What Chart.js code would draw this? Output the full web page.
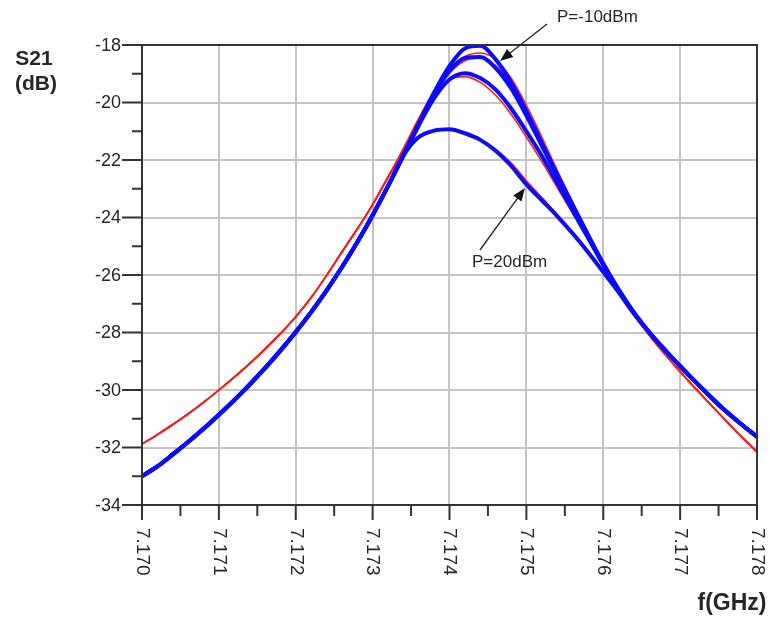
<!DOCTYPE html>
<html>
<head>
<meta charset="utf-8">
<script src="https://cdn.jsdelivr.net/npm/chart.js@4.4.1/dist/chart.umd.min.js"></script>
<style>
  html, body { margin: 0; padding: 0; background: #fff; }
  #wrap { position: relative; width: 770px; height: 618px; }
</style>
</head>
<body>
<div id="wrap"><canvas id="s21"></canvas></div>
<script>
// frequency points (GHz)
const freqGHz = [
  7.1700, 7.1702, 7.1704, 7.1706, 7.1708, 7.1710, 7.1712, 7.1714, 7.1716, 7.1718,
  7.1720, 7.1722, 7.1724, 7.1726, 7.1728, 7.1730, 7.1732, 7.1734, 7.1736, 7.1738,
  7.1740, 7.1742, 7.1744, 7.1746, 7.1748, 7.1750, 7.1752, 7.1754, 7.1756, 7.1758,
  7.1760, 7.1762, 7.1764, 7.1766, 7.1768, 7.1770, 7.1772, 7.1774, 7.1776, 7.1778,
  7.1780
];

// measured traces (blue): shared skirts, separate tops
const blueLeft = [-33.0, -32.66, -32.24, -31.81, -31.35, -30.86, -30.35, -29.81, -29.24,
  -28.63, -27.98, -27.29, -26.54, -25.73, -24.86, -23.92, -22.91];
const blueRight = [-28.0, -28.6, -29.17, -29.72, -30.25, -30.75, -31.2, -31.62];
const blueTop1 = [-21.84, -20.73, -19.65, -18.73, -18.12, -18.03, -18.5, -19.3, -20.3,
  -21.4, -22.5, -23.55, -24.6, -25.6, -26.5, -27.3];
const blueTop2 = [-21.84, -20.75, -19.72, -18.9, -18.45, -18.42, -18.8, -19.5, -20.45,
  -21.5, -22.55, -23.6, -24.62, -25.62, -26.52, -27.32];
const blueTop3 = [-21.85, -20.8, -19.85, -19.2, -18.98, -19.15, -19.55, -20.2, -21.0,
  -21.85, -22.8, -23.75, -24.7, -25.65, -26.55, -27.33];
const blueTop4 = [-21.85, -21.2, -20.98, -20.93, -21.07, -21.3, -21.68, -22.2, -22.85,
  -23.4, -23.95, -24.55, -25.2, -25.9, -26.6, -27.35];

// simulated traces (red)
const redLeft = [-31.88, -31.55, -31.2, -30.83, -30.43, -30.0, -29.55, -29.08, -28.58,
  -28.04, -27.45, -26.78, -26.02, -25.2, -24.4, -23.55, -22.6];
const redRight = [-28.1, -28.75, -29.36, -29.95, -30.52, -31.08, -31.63, -32.15];
const redTop1 = [-21.6, -20.55, -19.6, -18.85, -18.4, -18.28, -18.5, -19.15, -20.1,
  -21.2, -22.35, -23.45, -24.5, -25.55, -26.5, -27.35];
const redTop2 = [-21.62, -20.6, -19.68, -18.98, -18.55, -18.45, -18.72, -19.38, -20.3,
  -21.35, -22.45, -23.5, -24.55, -25.58, -26.52, -27.37];
const redTop3 = [-21.65, -20.65, -19.75, -19.2, -19.1, -19.3, -19.75, -20.4, -21.2,
  -22.05, -22.95, -23.85, -24.75, -25.65, -26.55, -27.38];
const redTop4 = [-21.8, -21.25, -21.0, -20.95, -21.05, -21.27, -21.62, -22.1, -22.72,
  -23.3, -23.9, -24.5, -25.15, -25.85, -26.55, -27.32];

const yTicks = [-18, -20, -22, -24, -26, -28, -30, -32, -34];
const xTicks = ['7.170', '7.171', '7.172', '7.173', '7.174', '7.175', '7.176', '7.177', '7.178'];

const toPoints = vals => vals.map((v, i) => ({ x: freqGHz[i], y: v }));

function trace(vals, color, width) {
  return {
    data: toPoints(vals),
    borderColor: color,
    borderWidth: width,
    pointRadius: 0,
    fill: false,
    cubicInterpolationMode: 'monotone',
    borderCapStyle: 'round',
    borderJoinStyle: 'round'
  };
}

const BLUE = '#0a0aff';
const RED = '#ff1a1a';

// first dataset ends up on top, so blue goes first
const datasets = [
  trace([...blueLeft, ...blueTop1, ...blueRight], BLUE, 4),
  trace([...blueLeft, ...blueTop2, ...blueRight], BLUE, 4),
  trace([...blueLeft, ...blueTop3, ...blueRight], BLUE, 4),
  trace([...blueLeft, ...blueTop4, ...blueRight], BLUE, 4),
  trace([...redLeft, ...redTop1, ...redRight], RED, 1.6),
  trace([...redLeft, ...redTop2, ...redRight], RED, 1.6),
  trace([...redLeft, ...redTop3, ...redRight], RED, 1.6),
  trace([...redLeft, ...redTop4, ...redRight], RED, 1.6)
];

const TEXT = '#262626';
const FONT = '"Liberation Sans", Arial, sans-serif';

function arrow(ctx, x0, y0, x1, y1) {
  const ang = Math.atan2(y1 - y0, x1 - x0);
  const len = 13, half = 5;
  ctx.beginPath();
  ctx.moveTo(x0, y0);
  ctx.lineTo(x1 - Math.cos(ang) * len * 0.8, y1 - Math.sin(ang) * len * 0.8);
  ctx.stroke();
  ctx.beginPath();
  ctx.moveTo(x1, y1);
  ctx.lineTo(x1 - Math.cos(ang) * len + Math.sin(ang) * half, y1 - Math.sin(ang) * len - Math.cos(ang) * half);
  ctx.lineTo(x1 - Math.cos(ang) * len - Math.sin(ang) * half, y1 - Math.sin(ang) * len + Math.cos(ang) * half);
  ctx.closePath();
  ctx.fill();
}

// frame, outward ticks, tick labels, axis titles and the two callouts
const decorations = {
  id: 'decorations',
  afterDraw(chart) {
    const { ctx, chartArea: a, scales: { x, y } } = chart;
    ctx.save();

    ctx.strokeStyle = '#333';
    ctx.lineWidth = 2;
    ctx.strokeRect(a.left, a.top, a.right - a.left, a.bottom - a.top);

    const seg = (x0, y0, x1, y1) => {
      ctx.beginPath(); ctx.moveTo(x0, y0); ctx.lineTo(x1, y1); ctx.stroke();
    };

    ctx.fillStyle = TEXT;
    ctx.font = '18px ' + FONT;
    ctx.textAlign = 'right';
    ctx.textBaseline = 'middle';
    yTicks.forEach((v, i) => {
      const py = y.getPixelForValue(v);
      seg(a.left - 20, py, a.left, py);
      ctx.fillText(String(v), a.left - 21, py + 1);
      if (i < yTicks.length - 1) {
        const pm = y.getPixelForValue(v - 1);
        seg(a.left - 10, pm, a.left, pm);
      }
    });

    ctx.font = '19px ' + FONT;
    xTicks.forEach((t, i) => {
      const v = parseFloat(t);
      const px = x.getPixelForValue(v);
      seg(px, a.bottom, px, a.bottom + 15);
      if (i < xTicks.length - 1) {
        const pm = x.getPixelForValue(v + 0.0005);
        seg(pm, a.bottom, pm, a.bottom + 11);
      }
      ctx.save();
      ctx.translate(px, a.bottom + 23);
      ctx.rotate(Math.PI / 2);
      ctx.textAlign = 'left';
      ctx.textBaseline = 'middle';
      ctx.fillText(t, 0, 0);
      ctx.restore();
    });

    ctx.font = 'bold 21px ' + FONT;
    ctx.textAlign = 'center';
    ctx.textBaseline = 'middle';
    ctx.fillText('S21', 34, 59);
    ctx.fillText('(dB)', 36, 84);
    ctx.font = 'bold 23px ' + FONT;
    ctx.fillText('f(GHz)', 732, 604);

    ctx.font = '17px ' + FONT;
    ctx.textAlign = 'left';
    ctx.fillText('P=-10dBm', 557, 17);
    ctx.fillText('P=20dBm', 472, 262);

    ctx.strokeStyle = '#222';
    ctx.fillStyle = '#111';
    ctx.lineWidth = 1.3;
    arrow(ctx, 547, 24, 500, 61);
    arrow(ctx, 480, 250, 525, 188);

    ctx.restore();
  }
};

new Chart(document.getElementById('s21'), {
  type: 'line',
  data: { datasets },
  options: {
    responsive: true,
    maintainAspectRatio: false,
    animation: false,
    events: [],
    layout: { padding: { left: 0, top: 45, right: 13, bottom: 0 } },
    plugins: { legend: { display: false }, tooltip: { enabled: false } },
    scales: {
      x: {
        type: 'linear',
        min: 7.170,
        max: 7.178,
        ticks: { display: false, stepSize: 0.001 },
        grid: { color: '#c4c4c4', lineWidth: 2, drawTicks: false },
        border: { display: false },
        afterFit: s => { s.height = 113; }
      },
      y: {
        min: -34,
        max: -18,
        ticks: { display: false, stepSize: 2 },
        grid: { color: '#c4c4c4', lineWidth: 2, drawTicks: false },
        border: { display: false },
        afterFit: s => { s.width = 142; }
      }
    }
  },
  plugins: [decorations]
});
</script>
</body>
</html>
